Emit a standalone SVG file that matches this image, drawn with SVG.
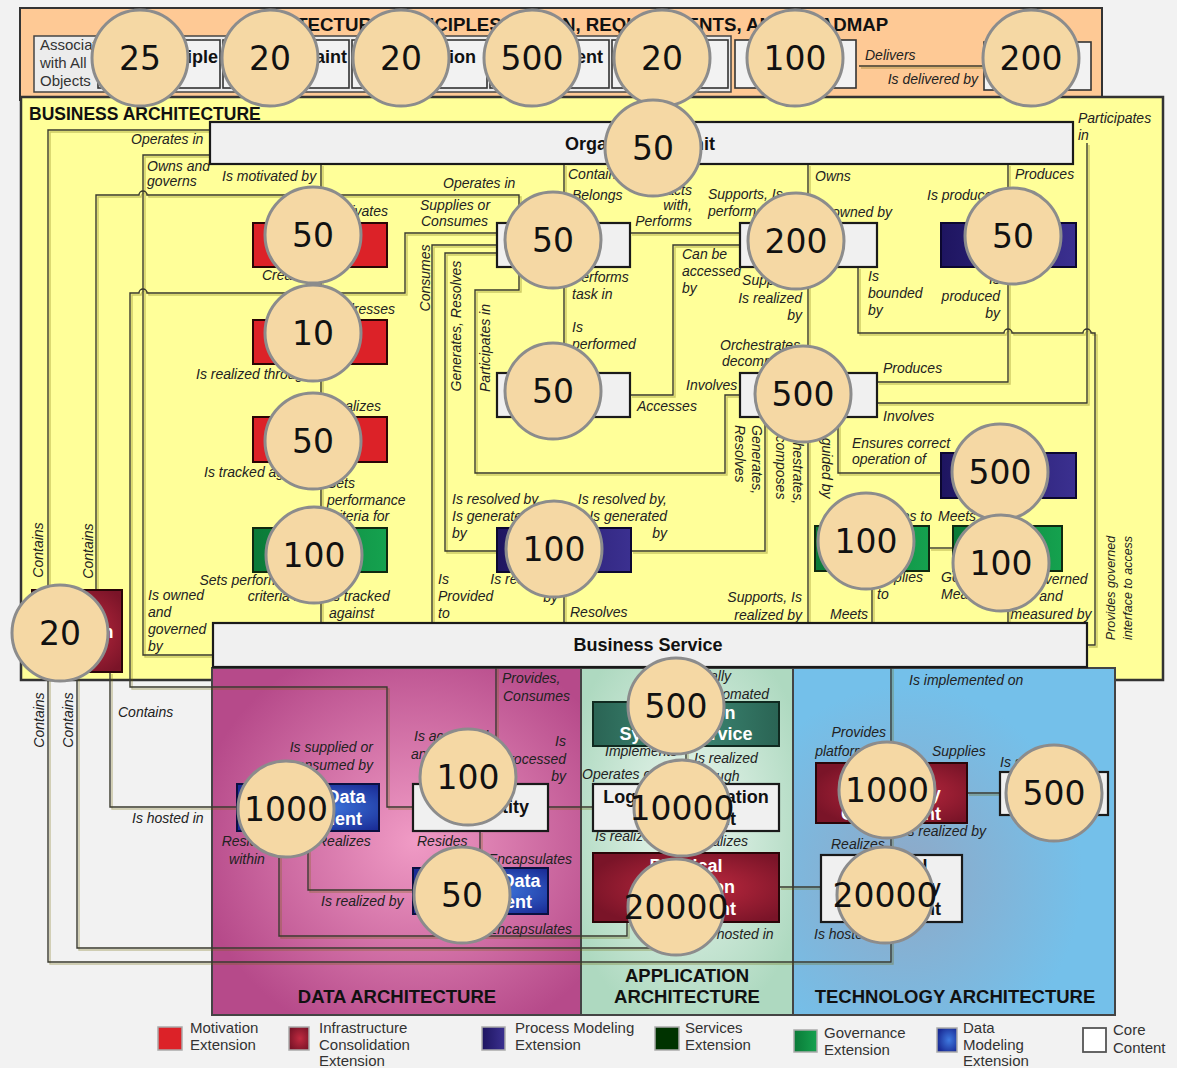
<svg xmlns="http://www.w3.org/2000/svg" xmlns:xlink="http://www.w3.org/1999/xlink" width="1177" height="1068" viewBox="0 0 1177 1068">
<style>
.lbl{font-family:"Liberation Sans",Arial,sans-serif;font-style:italic;font-size:14px;fill:#222}
.sm{font-size:12.5px}
.nt{font-family:"Liberation Sans",Arial,sans-serif;font-weight:bold;font-size:18px;text-anchor:middle;fill:#111}
.ne{text-anchor:end}
.w{fill:#fff}
.ttl{font-family:"Liberation Sans",Arial,sans-serif;font-weight:bold;fill:#111}
.leg{font-family:"Liberation Sans",Arial,sans-serif;font-size:15px;fill:#333}
.core{fill:#f0f0f0;stroke:#1a1a1a;stroke-width:2.2}
.cbox{fill:#f2f2f2;stroke:#333;stroke-width:1.6}
.red{fill:#dc2228;stroke:#2a0505;stroke-width:2}
.grn{fill:url(#gGreen);stroke:#102a10;stroke-width:2}
.ind{fill:url(#gInd);stroke:#0c0830;stroke-width:2}
.dred{fill:url(#gDred);stroke:#2a0508;stroke-width:2}
.blu{fill:url(#gBlue);stroke:#0a1040;stroke-width:2}
.teal{fill:url(#gTeal);stroke:#102a20;stroke-width:2}
.badge circle{fill:#f5d8a4;stroke:#8c8c8c;stroke-width:3}
.badge text{font-family:"DejaVu Sans",Verdana,sans-serif;font-size:33px;text-anchor:middle;fill:#111}
#connectors path{fill:none;stroke:#3a3a2e;stroke-width:1.4}
</style>
<defs>
<linearGradient id="gGreen" x1="0" y1="0" x2="1" y2="0"><stop offset="0" stop-color="#0a7a38"/><stop offset="1" stop-color="#15a24f"/></linearGradient>
<linearGradient id="gInd" x1="0" y1="0" x2="1" y2="0"><stop offset="0" stop-color="#1e1560"/><stop offset="1" stop-color="#3b3090"/></linearGradient>
<radialGradient id="gDred" cx="0.55" cy="0.5" r="0.6"><stop offset="0" stop-color="#c02a40"/><stop offset="1" stop-color="#7a1428"/></radialGradient>
<radialGradient id="gBlue" cx="0.6" cy="0.5" r="0.6"><stop offset="0" stop-color="#3f7ae0"/><stop offset="1" stop-color="#1a2c96"/></radialGradient>
<linearGradient id="gTeal" x1="0" y1="0" x2="1" y2="0"><stop offset="0" stop-color="#2a6454"/><stop offset="0.5" stop-color="#3e8a76"/><stop offset="1" stop-color="#2a6454"/></linearGradient>
<radialGradient id="gData" cx="0.55" cy="0.5" r="0.6"><stop offset="0" stop-color="#f09bc5"/><stop offset="1" stop-color="#b64a8a"/></radialGradient>
<radialGradient id="gApp" cx="0.5" cy="0.45" r="0.6"><stop offset="0" stop-color="#ecf7f0"/><stop offset="1" stop-color="#aed9c0"/></radialGradient>
<radialGradient id="gTech" cx="0.35" cy="0.6" r="0.55"><stop offset="0" stop-color="#8fa8c6"/><stop offset="1" stop-color="#74c0ea"/></radialGradient>
<filter id="sh" x="-2%" y="-2%" width="104%" height="104%"><feOffset in="SourceAlpha" dx="1.5" dy="1.5" result="o"/><feFlood flood-color="#6e6400" flood-opacity="0.35"/><feComposite in2="o" operator="in"/><feMerge><feMergeNode/><feMergeNode in="SourceGraphic"/></feMerge></filter>
</defs>
<rect x="0" y="0" width="1177" height="1068" fill="#f2f2f2"/>
<!-- panels -->
<g id="panels">
<rect x="20" y="8" width="1082" height="92" fill="#fec995" stroke="#333" stroke-width="2"/>
<rect x="21" y="97" width="1142" height="583" fill="#ffff99" stroke="#333" stroke-width="2.5"/>
<rect x="212" y="668" width="369" height="347" fill="url(#gData)" stroke="#444" stroke-width="2"/>
<rect x="581" y="668" width="212" height="347" fill="url(#gApp)" stroke="#444" stroke-width="2"/>
<rect x="793" y="668" width="322" height="347" fill="url(#gTech)" stroke="#444" stroke-width="2"/>
</g>
<!-- connectors -->
<g id="connectors" filter="url(#sh)">
<path d="M859,66 H984"/>
<path d="M210,130 H48 V590"/>
<path d="M96,590 V195 H139 A4,4 0 0 1 147,195 H519 V223"/>
<path d="M210,155 H143 V655 H213"/>
<path d="M321,164 V223"/>
<path d="M321,267 V320"/>
<path d="M321,364 V417"/>
<path d="M321,462 V528"/>
<path d="M321,572 V623"/>
<path d="M497,233 H405 V293 H147 A4,4 0 0 0 139,293 H130 V687 H387 V807 H413"/>
<path d="M564,164 V223"/>
<path d="M564,267 V373"/>
<path d="M497,245 H432 V623"/>
<path d="M497,253 H445 V551 H497"/>
<path d="M519,267 V290 H475 V473 H725 V395 H740"/>
<path d="M630,233 H740"/>
<path d="M630,395 H673 V245 H740"/>
<path d="M808,164 V223"/>
<path d="M808,267 V373"/>
<path d="M808,417 V623"/>
<path d="M765,417 V551 H631"/>
<path d="M838,417 V473 H941"/>
<path d="M858,267 V333 H1004 A4,4 0 0 1 1012,333 H1083 A4,4 0 0 1 1091,333 H1095 V645 H1087"/>
<path d="M1008,164 V223"/>
<path d="M877,382 H1008 V267"/>
<path d="M877,403 H1087 V143"/>
<path d="M564,572 V623"/>
<path d="M872,571 V623"/>
<path d="M929,548 H953"/>
<path d="M1008,571 V623"/>
<path d="M110,672 V807 H237"/>
<path d="M496,667 V784"/>
<path d="M548,807 H593"/>
<path d="M308,831 V890 H413"/>
<path d="M279,831 V936 H627 V922"/>
<path d="M480,831 V868"/>
<path d="M686,667 V702"/>
<path d="M686,746 V784"/>
<path d="M686,831 V853"/>
<path d="M779,887 H821"/>
<path d="M77,672 V948 H690 V922"/>
<path d="M48,672 V962 H891 V922"/>
<path d="M891,667 V763"/>
<path d="M967,793 H1000"/>
<path d="M891,823 V855"/>
</g>
<!-- connector labels -->
<g id="labels">
<text class="lbl" x="865" y="60">Delivers</text>
<text class="lbl" x="978" y="84" text-anchor="end">Is delivered by</text>
<text class="lbl" x="131" y="144">Operates in</text>
<text class="lbl" x="147" y="171">Owns and</text>
<text class="lbl" x="147" y="186">governs</text>
<text class="lbl" x="222" y="181">Is motivated by</text>
<text class="lbl" x="388" y="216" text-anchor="end">Motivates</text>
<text class="lbl" x="262" y="280">Creates</text>
<text class="lbl" x="395" y="314" text-anchor="end">Addresses</text>
<text class="lbl" x="196" y="379">Is realized through</text>
<text class="lbl" x="381" y="411" text-anchor="end">Realizes</text>
<text class="lbl" x="204" y="477">Is tracked against</text>
<text class="lbl" x="327" y="488">Sets</text>
<text class="lbl" x="327" y="505">performance</text>
<text class="lbl" x="327" y="521">criteria for</text>
<text class="lbl" x="310" y="585" text-anchor="end">Sets performance</text>
<text class="lbl" x="310" y="601" text-anchor="end">criteria for</text>
<text class="lbl" x="329" y="601">Is tracked</text>
<text class="lbl" x="329" y="618">against</text>
<text class="lbl" x="148" y="600">Is owned</text>
<text class="lbl" x="148" y="617">and</text>
<text class="lbl" x="148" y="634">governed</text>
<text class="lbl" x="148" y="651">by</text>
<text class="lbl" x="43" y="550" text-anchor="middle" transform="rotate(-90 43 550)">Contains</text>
<text class="lbl" x="93" y="551" text-anchor="middle" transform="rotate(-90 93 551)">Contains</text>
<text class="lbl" x="430" y="278" text-anchor="middle" transform="rotate(-90 430 278)">Consumes</text>
<text class="lbl" x="461" y="326" text-anchor="middle" transform="rotate(-90 461 326)">Generates, Resolves</text>
<text class="lbl" x="490" y="348" text-anchor="middle" transform="rotate(-90 490 348)">Participates in</text>
<text class="lbl" x="420" y="210">Supplies or</text>
<text class="lbl" x="421" y="226">Consumes</text>
<text class="lbl" x="443" y="188">Operates in</text>
<text class="lbl" x="568" y="179">Contains</text>
<text class="lbl" x="572" y="200">Belongs</text>
<text class="lbl" x="692" y="195" text-anchor="end">Interacts</text>
<text class="lbl" x="692" y="210" text-anchor="end">with,</text>
<text class="lbl" x="692" y="226" text-anchor="end">Performs</text>
<text class="lbl" x="572" y="282">Performs</text>
<text class="lbl" x="572" y="299">task in</text>
<text class="lbl" x="572" y="332">Is</text>
<text class="lbl" x="572" y="349">performed</text>
<text class="lbl" x="572" y="366">by</text>
<text class="lbl" x="682" y="259">Can be</text>
<text class="lbl" x="682" y="276">accessed</text>
<text class="lbl" x="682" y="293">by</text>
<text class="lbl" x="708" y="199">Supports, Is</text>
<text class="lbl" x="708" y="216">performed by</text>
<text class="lbl" x="815" y="181">Owns</text>
<text class="lbl" x="892" y="217" text-anchor="end">Is owned by</text>
<text class="lbl" x="927" y="200">Is produced by</text>
<text class="lbl" x="1015" y="179">Produces</text>
<text class="lbl" x="1078" y="123">Participates</text>
<text class="lbl" x="1078" y="140">in</text>
<text class="lbl" x="868" y="281">Is</text>
<text class="lbl" x="868" y="298">bounded</text>
<text class="lbl" x="868" y="315">by</text>
<text class="lbl" x="1000" y="284" text-anchor="end">Is</text>
<text class="lbl" x="1000" y="301" text-anchor="end">produced</text>
<text class="lbl" x="1000" y="318" text-anchor="end">by</text>
<text class="lbl" x="802" y="285" text-anchor="end">Supports,</text>
<text class="lbl" x="802" y="303" text-anchor="end">Is realized</text>
<text class="lbl" x="802" y="320" text-anchor="end">by</text>
<text class="lbl" x="720" y="350">Orchestrates,</text>
<text class="lbl" x="722" y="366">decomposes</text>
<text class="lbl" x="686" y="390">Involves</text>
<text class="lbl" x="637" y="411">Accesses</text>
<text class="lbl" x="883" y="373">Produces</text>
<text class="lbl" x="883" y="421">Involves</text>
<text class="lbl" x="852" y="448">Ensures correct</text>
<text class="lbl" x="852" y="464">operation of</text>
<text class="lbl" x="752" y="425" transform="rotate(90 752 425)">Generates,</text>
<text class="lbl" x="735" y="425" transform="rotate(90 735 425)">Resolves</text>
<text class="lbl" x="793" y="420" transform="rotate(90 793 420)">Orchestrates,</text>
<text class="lbl" x="776" y="420" transform="rotate(90 776 420)">decomposes</text>
<text class="lbl" x="822" y="423" transform="rotate(90 822 423)">Is guided by</text>
<text class="lbl" x="452" y="504">Is resolved by,</text>
<text class="lbl" x="452" y="521">Is generated</text>
<text class="lbl" x="452" y="538">by</text>
<text class="lbl" x="667" y="504" text-anchor="end">Is resolved by,</text>
<text class="lbl" x="667" y="521" text-anchor="end">Is generated</text>
<text class="lbl" x="667" y="538" text-anchor="end">by</text>
<text class="lbl" x="438" y="584">Is</text>
<text class="lbl" x="438" y="601">Provided</text>
<text class="lbl" x="438" y="618">to</text>
<text class="lbl" x="558" y="584" text-anchor="end">Is resolved</text>
<text class="lbl" x="558" y="602" text-anchor="end">by</text>
<text class="lbl" x="570" y="617">Resolves</text>
<text class="lbl" x="802" y="602" text-anchor="end">Supports, Is</text>
<text class="lbl" x="802" y="620" text-anchor="end">realized by</text>
<text class="lbl" x="830" y="619">Meets</text>
<text class="lbl" x="877" y="582">Applies</text>
<text class="lbl" x="877" y="599">to</text>
<text class="lbl" x="941" y="582">Governs,</text>
<text class="lbl" x="941" y="599">Measures</text>
<text class="lbl" x="1051" y="584" text-anchor="middle">Is governed</text>
<text class="lbl" x="1051" y="601" text-anchor="middle">and</text>
<text class="lbl" x="1051" y="619" text-anchor="middle">measured by</text>
<text class="lbl" x="932" y="521" text-anchor="end">Applies to</text>
<text class="lbl" x="938" y="521">Meets</text>
<text class="lbl sm" x="1115" y="588" text-anchor="middle" transform="rotate(-90 1115 588)">Provides governed</text>
<text class="lbl sm" x="1132" y="588" text-anchor="middle" transform="rotate(-90 1132 588)">interface to access</text>
<text class="lbl" x="118" y="717">Contains</text>
<text class="lbl" x="44" y="720" text-anchor="middle" transform="rotate(-90 44 720)">Contains</text>
<text class="lbl" x="73" y="720" text-anchor="middle" transform="rotate(-90 73 720)">Contains</text>
<text class="lbl" x="132" y="823">Is hosted in</text>
<text class="lbl" x="373" y="752" text-anchor="end">Is supplied or</text>
<text class="lbl" x="373" y="770" text-anchor="end">consumed by</text>
<text class="lbl" x="414" y="741">Is accessed</text>
<text class="lbl" x="411" y="759">and updated by</text>
<text class="lbl" x="566" y="746" text-anchor="end">Is</text>
<text class="lbl" x="566" y="764" text-anchor="end">processed</text>
<text class="lbl" x="566" y="781" text-anchor="end">by</text>
<text class="lbl" x="502" y="683">Provides,</text>
<text class="lbl" x="503" y="701">Consumes</text>
<text class="lbl" x="247" y="846" text-anchor="middle">Resides</text>
<text class="lbl" x="247" y="864" text-anchor="middle">within</text>
<text class="lbl" x="317" y="846">Realizes</text>
<text class="lbl" x="417" y="846">Resides</text>
<text class="lbl" x="572" y="864" text-anchor="end">Encapsulates</text>
<text class="lbl" x="321" y="906">Is realized by</text>
<text class="lbl" x="572" y="934" text-anchor="end">Encapsulates</text>
<text class="lbl" x="731" y="681" text-anchor="end">Partially</text>
<text class="lbl" x="769" y="699" text-anchor="end">automated</text>
<text class="lbl" x="605" y="756">Implements</text>
<text class="lbl" x="694" y="763">Is realized</text>
<text class="lbl" x="692" y="781">through</text>
<text class="lbl" x="582" y="779">Operates on</text>
<text class="lbl" x="595" y="841">Is realized by</text>
<text class="lbl" x="748" y="846" text-anchor="end">Realizes</text>
<text class="lbl" x="702" y="939">Is hosted in</text>
<text class="lbl" x="909" y="685">Is implemented on</text>
<text class="lbl" x="886" y="737" text-anchor="end">Provides</text>
<text class="lbl" x="886" y="756" text-anchor="end">platform for</text>
<text class="lbl" x="932" y="756">Supplies</text>
<text class="lbl" x="1000" y="767">Is supplied by</text>
<text class="lbl" x="986" y="836" text-anchor="end">Is realized by</text>
<text class="lbl" x="831" y="849">Realizes</text>
<text class="lbl" x="814" y="939">Is hosted in</text>
</g>
<!-- panel titles -->
<g id="titles">
<text class="ttl" x="237" y="31" font-size="18.7">ARCHITECTURE PRINCIPLES, VISION, REQUIREMENTS, AND ROADMAP</text>
<text class="ttl" x="29" y="120" font-size="17.5">BUSINESS ARCHITECTURE</text>
<text class="ttl" x="397" y="1003" font-size="18.5" text-anchor="middle">DATA ARCHITECTURE</text>
<text class="ttl" x="687" y="982" font-size="18.5" text-anchor="middle">APPLICATION</text>
<text class="ttl" x="687" y="1003" font-size="18.5" text-anchor="middle">ARCHITECTURE</text>
<text class="ttl" x="955" y="1003" font-size="18.5" text-anchor="middle">TECHNOLOGY ARCHITECTURE</text>
</g>
<!-- nodes -->
<g id="n-associated"><rect x="34" y="36" width="697" height="56" fill="#ececec" stroke="#444" stroke-width="1.5"/>
<text class="leg" x="40" y="50" fill="#222">Associated</text><text class="leg" x="40" y="68" fill="#222">with All</text><text class="leg" x="40" y="86" fill="#222">Objects</text></g>
<g id="n-principle"><rect class="cbox" x="98" y="40" width="122" height="48"/><text class="nt ne" x="218" y="63">Principle</text></g>
<g id="n-constraint"><rect class="cbox" x="223" y="40" width="126" height="48"/><text class="nt ne" x="347" y="63">Constraint</text></g>
<g id="n-assumption"><rect class="cbox" x="352" y="40" width="135" height="48"/><text class="nt ne" x="476" y="63">Assumption</text></g>
<g id="n-requirement"><rect class="cbox" x="490" y="40" width="119" height="48"/><text class="nt ne" x="603" y="63">Requirement</text></g>
<g id="n-gap"><rect class="cbox" x="612" y="40" width="116" height="48"/><text class="nt" x="664" y="63">Gap</text></g>
<g id="n-workpackage"><rect class="cbox" x="735" y="40" width="121" height="48"/><text class="nt" x="795" y="54">Work</text><text class="nt" x="795" y="75">Package</text></g>
<g id="n-capability"><rect class="cbox" x="984" y="42" width="107" height="48"/><text class="nt" x="1031" y="63">Capability</text></g>

<g id="n-orgunit"><rect class="core" x="210" y="122" width="863" height="42"/><text class="nt" x="640" y="150">Organization Unit</text></g>
<g id="n-driver"><rect class="red" x="253" y="223" width="134" height="44"/><text class="nt w" x="316" y="251">Driver</text></g>
<g id="n-goal"><rect class="red" x="253" y="320" width="134" height="44"/><text class="nt w" x="316" y="348">Goal</text></g>
<g id="n-objective"><rect class="red" x="253" y="417" width="134" height="45"/><text class="nt w" x="314" y="446">Objective</text></g>
<g id="n-measure"><rect class="grn" x="253" y="528" width="134" height="44"/><text class="nt w" x="316" y="556">Measure</text></g>
<g id="n-actor"><rect class="core" x="497" y="223" width="133" height="44"/><text class="nt" x="556" y="251">Actor</text></g>
<g id="n-role"><rect class="core" x="497" y="373" width="133" height="44"/><text class="nt" x="556" y="401">Role</text></g>
<g id="n-event"><rect class="ind" x="497" y="528" width="134" height="44"/><text class="nt w" x="556" y="556">Event</text></g>
<g id="n-function"><rect class="core" x="740" y="223" width="137" height="44"/><text class="nt" x="798" y="251">Function</text></g>
<g id="n-process"><rect class="core" x="740" y="373" width="137" height="44"/><text class="nt" x="803" y="401">Process</text></g>
<g id="n-product"><rect class="ind" x="941" y="223" width="135" height="44"/><text class="nt w" x="1012" y="251">Product</text></g>
<g id="n-control"><rect class="ind" x="941" y="453" width="135" height="45"/><text class="nt w" x="1001" y="481">Control</text></g>
<g id="n-contract"><rect class="grn" x="815" y="526" width="114" height="45"/><text class="nt w" x="866" y="554">Contract</text></g>
<g id="n-servicequality"><rect class="grn" x="953" y="526" width="109" height="45"/><text class="nt w" x="1002" y="545">Service</text><text class="nt w" x="1002" y="565">Quality</text></g>
<g id="n-location"><rect class="dred" x="32" y="590" width="90" height="82"/><text class="nt w" x="76" y="638" font-size="16">Location</text></g>
<g id="n-businessservice"><rect class="core" x="213" y="623" width="874" height="44"/><text class="nt" x="648" y="651">Business Service</text></g>

<g id="n-ldc"><rect class="blu" x="237" y="784" width="142" height="47"/><text class="nt w" x="312" y="803">Logical Data</text><text class="nt w" x="312" y="825">Component</text></g>
<g id="n-dataentity"><rect class="core" x="413" y="784" width="135" height="47"/><text class="nt" x="482" y="813">Data Entity</text></g>
<g id="n-pdc"><rect class="blu" x="413" y="868" width="135" height="46"/><text class="nt w" x="482" y="887">Physical Data</text><text class="nt w" x="482" y="908">Component</text></g>
<g id="n-iss"><rect class="teal" x="593" y="702" width="186" height="44"/><text class="nt w" x="686" y="719">Information</text><text class="nt w" x="686" y="740">System Service</text></g>
<g id="n-lac"><rect class="core" x="593" y="784" width="186" height="47"/><text class="nt" x="686" y="803">Logical Application</text><text class="nt" x="686" y="825">Component</text></g>
<g id="n-pac"><rect class="dred" x="593" y="853" width="186" height="69"/><text class="nt w" x="686" y="872">Physical</text><text class="nt w" x="686" y="893">Application</text><text class="nt w" x="686" y="915">Component</text></g>
<g id="n-ltc"><rect class="dred" x="816" y="763" width="151" height="60"/><text class="nt w" x="891" y="780">Logical</text><text class="nt w" x="891" y="800">Technology</text><text class="nt w" x="891" y="820">Component</text></g>
<g id="n-platform"><rect class="core" x="1000" y="772" width="108" height="43"/><text class="nt" x="1054" y="790">Platform</text><text class="nt" x="1054" y="809">Service</text></g>
<g id="n-ptc"><rect class="core" x="821" y="855" width="141" height="67"/><text class="nt" x="891" y="872">Physical</text><text class="nt" x="891" y="893">Technology</text><text class="nt" x="891" y="915">Component</text></g>

<!-- legend -->
<g id="legend">
<rect x="158" y="1027" width="24" height="23" fill="#dc2228" stroke="#aaa" stroke-width="1.5"/>
<text class="leg" x="190" y="1033">Motivation</text><text class="leg" x="190" y="1050">Extension</text>
<rect x="289" y="1027" width="20" height="23" fill="url(#gDred)" stroke="#aaa" stroke-width="1.5"/>
<text class="leg" x="319" y="1033">Infrastructure</text><text class="leg" x="319" y="1050">Consolidation</text><text class="leg" x="319" y="1066">Extension</text>
<rect x="482" y="1027" width="23" height="23" fill="url(#gInd)" stroke="#aaa" stroke-width="1.5"/>
<text class="leg" x="515" y="1033">Process Modeling</text><text class="leg" x="515" y="1050">Extension</text>
<rect x="655" y="1027" width="24" height="23" fill="#003300" stroke="#aaa" stroke-width="1.5"/>
<text class="leg" x="685" y="1033">Services</text><text class="leg" x="685" y="1050">Extension</text>
<rect x="794" y="1030" width="23" height="22" fill="url(#gGreen)" stroke="#aaa" stroke-width="1.5"/>
<text class="leg" x="824" y="1038">Governance</text><text class="leg" x="824" y="1055">Extension</text>
<rect x="937" y="1028" width="20" height="24" fill="url(#gBlue)" stroke="#aaa" stroke-width="1.5"/>
<text class="leg" x="963" y="1033">Data</text><text class="leg" x="963" y="1050">Modeling</text><text class="leg" x="963" y="1066">Extension</text>
<rect x="1083" y="1028" width="23" height="24" fill="#fff" stroke="#555" stroke-width="1.8"/>
<text class="leg" x="1113" y="1035">Core</text><text class="leg" x="1113" y="1053">Content</text>
</g>

<!-- badges -->
<g id="badges">
<g class="badge" id="b1"><circle cx="140" cy="58" r="48"/><text x="140" y="70">25</text></g>
<g class="badge" id="b2"><circle cx="270" cy="58" r="48"/><text x="270" y="70">20</text></g>
<g class="badge" id="b3"><circle cx="401" cy="58" r="48"/><text x="401" y="70">20</text></g>
<g class="badge" id="b4"><circle cx="532" cy="58" r="48"/><text x="532" y="70">500</text></g>
<g class="badge" id="b5"><circle cx="662" cy="58" r="48"/><text x="662" y="70">20</text></g>
<g class="badge" id="b6"><circle cx="795" cy="58" r="48"/><text x="795" y="70">100</text></g>
<g class="badge" id="b7"><circle cx="1031" cy="58" r="48"/><text x="1031" y="70">200</text></g>
<g class="badge" id="b8"><circle cx="653" cy="148" r="48"/><text x="653" y="160">50</text></g>
<g class="badge" id="b9"><circle cx="313" cy="235" r="48"/><text x="313" y="247">50</text></g>
<g class="badge" id="b10"><circle cx="553" cy="240" r="48"/><text x="553" y="252">50</text></g>
<g class="badge" id="b11"><circle cx="796" cy="241" r="48"/><text x="796" y="253">200</text></g>
<g class="badge" id="b12"><circle cx="1013" cy="236" r="48"/><text x="1013" y="248">50</text></g>
<g class="badge" id="b13"><circle cx="313" cy="333" r="48"/><text x="313" y="345">10</text></g>
<g class="badge" id="b14"><circle cx="553" cy="391" r="48"/><text x="553" y="403">50</text></g>
<g class="badge" id="b15"><circle cx="803" cy="394" r="48"/><text x="803" y="406">500</text></g>
<g class="badge" id="b16"><circle cx="313" cy="441" r="48"/><text x="313" y="453">50</text></g>
<g class="badge" id="b17"><circle cx="1000" cy="472" r="48"/><text x="1000" y="484">500</text></g>
<g class="badge" id="b18"><circle cx="314" cy="555" r="48"/><text x="314" y="567">100</text></g>
<g class="badge" id="b19"><circle cx="554" cy="549" r="48"/><text x="554" y="561">100</text></g>
<g class="badge" id="b20"><circle cx="866" cy="541" r="48"/><text x="866" y="553">100</text></g>
<g class="badge" id="b21"><circle cx="1001" cy="563" r="48"/><text x="1001" y="575">100</text></g>
<g class="badge" id="b22"><circle cx="60" cy="633" r="48"/><text x="60" y="645">20</text></g>
<g class="badge" id="b23"><circle cx="676" cy="706" r="48"/><text x="676" y="718">500</text></g>
<g class="badge" id="b24"><circle cx="468" cy="777" r="48"/><text x="468" y="789">100</text></g>
<g class="badge" id="b25"><circle cx="286" cy="809" r="48"/><text x="286" y="821">1000</text></g>
<g class="badge" id="b26"><circle cx="682" cy="808" r="48"/><text x="682" y="820">10000</text></g>
<g class="badge" id="b27"><circle cx="887" cy="790" r="48"/><text x="887" y="802">1000</text></g>
<g class="badge" id="b28"><circle cx="1054" cy="793" r="48"/><text x="1054" y="805">500</text></g>
<g class="badge" id="b29"><circle cx="462" cy="895" r="48"/><text x="462" y="907">50</text></g>
<g class="badge" id="b30"><circle cx="676" cy="907" r="48"/><text x="676" y="919">20000</text></g>
<g class="badge" id="b31"><circle cx="885" cy="895" r="48"/><text x="885" y="907">20000</text></g>
</g>
</svg>
